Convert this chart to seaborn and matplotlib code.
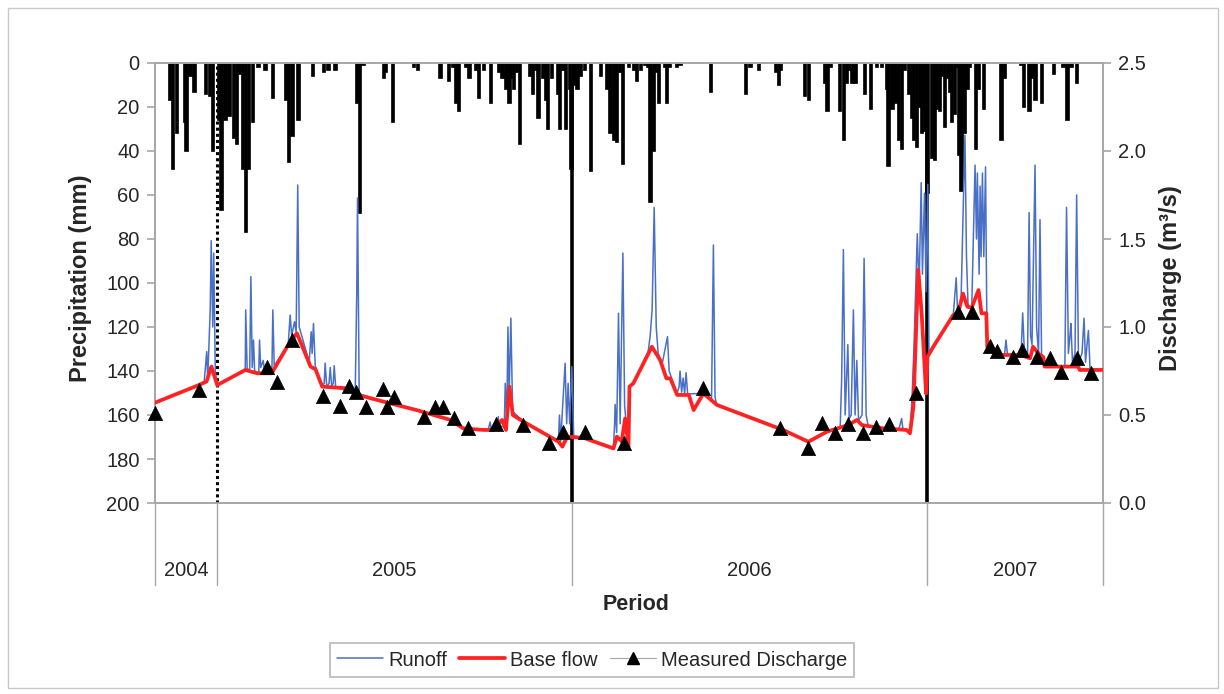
import numpy as np
import pandas as pd
import seaborn as sns
import matplotlib.pyplot as plt
from matplotlib.lines import Line2D
from matplotlib.patches import Rectangle
import matplotlib.transforms as mtransforms

# x axis = days since 2005-01-01
years = ["2004", "2005", "2006", "2007"]
year_edges = [-64, 0, 365, 730, 911]

# daily precipitation (mm), rainy days only
rain_day = [-49, -46, -42, -34, -32, -28, -24, -12, -8, -5, 1, 4, 8, 12, 17, 20, 23, 26, 29, 32,
            36, 42, 49, 57, 70, 73, 77, 83, 98, 109, 114, 121, 143, 146, 150, 171, 173, 180,
            202, 206, 229, 238, 242, 245, 248, 256, 259, 266, 269, 274, 281, 289, 293, 297,
            300, 303, 305, 308, 311, 321, 324, 327, 330, 335, 338, 340, 344, 350, 352, 355,
            358, 362, 364, 367, 370, 373, 378, 384, 394, 401, 404, 408, 411, 414, 417, 423,
            428, 431, 435, 440, 443, 445, 449, 451, 454, 460, 462, 465, 472, 476, 507, 543,
            548, 557, 574, 577, 579, 604, 608, 625, 627, 631, 640, 644, 647, 650, 653, 656,
            666, 672, 678, 683, 688, 690, 694, 697, 701, 704, 707, 711, 714, 716, 719, 722,
            724, 727, 730, 735, 738, 740, 743, 745, 748, 751, 753, 755, 758, 760, 763, 765,
            768, 771, 774, 780, 783, 788, 806, 810, 826, 829, 835, 838, 841, 848, 860, 870,
            874, 878, 884]
rain_mm = [17, 48, 32, 27, 40, 6, 13, 14, 15, 40, 26, 67, 26, 24, 34, 37, 5, 48, 77, 48,
           27, 2, 3, 16, 17, 45, 33, 26, 6, 4, 3, 3, 18, 68, 1, 7, 4, 27,
           2, 3, 7, 8, 2, 18, 22, 2, 7, 3, 16, 3, 18, 4, 7, 12,
           18, 7, 12, 4, 37, 6, 14, 3, 25, 7, 17, 30, 7, 14, 30, 3,
           30, 12, 48, 10, 12, 6, 3, 49, 6, 12, 32, 35, 36, 4, 46, 2,
           3, 8, 3, 1, 2, 63, 40, 4, 18, 2, 18, 2, 2, 1, 13, 14,
           2, 3, 4, 10, 3, 15, 17, 9, 22, 2, 22, 35, 9, 3, 9, 9,
           14, 21, 2, 2, 12, 47, 21, 18, 35, 39, 3, 14, 25, 35, 38, 20,
           32, 31, 59, 43, 44, 21, 22, 6, 29, 7, 13, 27, 23, 2, 42, 58,
           32, 12, 2, 39, 12, 21, 35, 7, 1, 20, 22, 7, 17, 18, 5, 2,
           26, 2, 9]

# base flow (m3/s)
base_day = [-64, -19, -11, -6, 0, 29, 41, 56, 75, 82, 96, 101, 108, 133, 145, 171, 205, 240,
            253, 274, 284, 293, 297, 300.5, 304, 315, 342, 351, 355, 360, 377, 407.5, 411,
            416, 419.5, 423, 424, 428, 447, 455.5, 462, 466, 473, 485, 490, 500, 514, 582,
            608, 627, 649, 658, 663, 685, 709, 712.5, 716, 721, 724.5, 729, 730.5, 736.5, 757,
            762, 767, 771.5, 776, 783, 786, 791, 792, 798, 805, 826, 836, 839, 846, 849.5,
            851, 885.5, 887, 911]
base_q = [0.57, 0.67, 0.69, 0.775, 0.67, 0.756, 0.737, 0.737, 0.917, 0.964, 0.775, 0.76, 0.661,
          0.652, 0.614, 0.576, 0.528, 0.472, 0.424, 0.415, 0.415, 0.472, 0.415, 0.661, 0.50,
          0.462, 0.377, 0.348, 0.32, 0.377, 0.37, 0.31, 0.377, 0.35, 0.48, 0.32, 0.661, 0.68,
          0.888, 0.8125, 0.708, 0.708, 0.614, 0.614, 0.528, 0.623, 0.557, 0.415, 0.348, 0.405,
          0.443, 0.472, 0.443, 0.424, 0.415, 0.396, 0.547, 1.324, 1.078, 0.623, 0.831, 0.888,
          1.068, 1.078, 1.19, 1.115, 1.11, 1.21, 1.078, 1.078, 0.888, 0.869, 0.841, 0.841,
          0.822, 0.888, 0.841, 0.83, 0.775, 0.775, 0.756, 0.756]

# runoff (m3/s)
runoff_day = [-64, -19, -13.4, -10.8, -9.8, -7.2, -6.2, -4.6, -3.6, -2, 0, 28.8, 29.3, 30.8,
              33.4, 34.6, 36, 37.3, 38.5, 42.7, 43.5, 44.7, 47.3, 48.8, 56.2, 57.2, 58.6, 73,
              75, 76.6, 79.5, 81.2, 82.8, 84.3, 94.6, 96.6, 97.6, 99, 100.8, 107.7, 110, 111,
              112.6, 115, 116.2, 117.7, 119.3, 120.3, 121.8, 141.9, 143.5, 144.3, 146, 171,
              205, 240, 253, 278.6, 280.7, 281.7, 287.9, 289, 290.5, 295.2, 296.2, 297.8, 299,
              300.2, 302, 303.8, 315, 342.4, 350.9, 352, 353.2, 357.8, 359.4, 360.9, 362.5,
              364.7, 366.6, 376.6, 407.5, 408.7, 409.2, 410.8, 412.7, 414.4, 417.2, 419, 421.6,
              424, 428, 443.2, 445.3, 447.3, 449.4, 451.5, 453.5, 457.6, 459.7, 461.2, 463.1,
              464.8, 472.7, 475, 476, 477.6, 479.2, 480.7, 482.2, 483.8, 500, 508.4, 510.3, 512,
              513.8, 582.3, 608, 627, 640.7, 642.2, 644, 645.8, 648.6, 650, 652, 654.3, 656,
              657.8, 659.6, 663.2, 665.3, 667.4, 669.4, 685, 701.1, 703.9, 705.2, 709, 712.5,
              714.6, 716.7, 720, 721.8, 724, 725.3, 727.4, 729, 730.8, 732, 736.5, 757, 760,
              761.5, 765, 767.3, 769, 770.6, 772.2, 776, 779.4, 780.9, 781.8, 783.6, 784.6,
              785.6, 787, 788.4, 790.2, 791.8, 798.2, 805, 809.7, 811.2, 812.8, 826.7, 828.4,
              830.3, 833.4, 835, 836.5, 838, 841.1, 842.7, 844.7, 846.2, 847.8, 851.3, 871.8,
              873.5, 875.4, 877, 878, 879.6, 882.2, 883.9, 885.8, 889.4, 891.5, 893, 894.6,
              896, 897.7, 911]
runoff_q = [0.57, 0.67, 0.69, 0.86, 0.70, 1.1, 1.49, 1.0, 1.42, 0.75, 0.67, 0.756, 1.097, 0.76,
            0.76, 1.286, 0.77, 0.926, 0.75, 0.74, 0.926, 0.77, 0.81, 0.74, 0.737, 1.097, 0.78,
            0.9, 1.068, 0.95, 1.03, 0.97, 1.807, 1.0, 0.8, 0.973, 0.85, 1.02, 0.78, 0.661, 0.68,
            0.795, 0.66, 0.68, 0.77, 0.66, 0.68, 0.78, 0.66, 0.62, 1.2, 1.733, 0.62, 0.576,
            0.528, 0.472, 0.424, 0.415, 0.46, 0.42, 0.43, 0.49, 0.44, 0.43, 0.68, 0.48, 1.0,
            0.6, 1.05, 0.52, 0.462, 0.377, 0.348, 0.5, 0.35, 0.794, 0.45, 0.68, 0.45,
            0.775, 0.38, 0.37, 0.31, 0.45, 0.56, 0.40, 1.078, 0.45, 1.42, 0.55, 0.40,
            0.661, 0.68, 0.86, 0.95, 1.1, 1.68, 1.0, 0.85, 0.79, 0.85, 0.89, 0.945,
            0.75, 0.62, 0.66, 0.75, 0.63, 0.71, 0.62, 0.74, 0.62, 0.623, 0.59, 1.466, 0.6,
            0.557, 0.415, 0.348, 0.405, 0.43, 0.7, 1.44, 0.5, 0.9, 0.48, 0.5, 1.097, 0.5,
            0.81, 0.47, 0.50, 1.39, 0.50, 0.44, 0.424, 0.42, 0.48, 0.42, 0.415, 0.396,
            0.6, 0.9, 1.53, 1.2, 1.82, 1.3, 1.76, 1.2, 1.81, 0.85, 0.888, 1.068, 1.28,
            1.08, 1.15, 1.68, 2.09, 1.4, 1.12, 1.11, 1.92, 1.5, 1.875, 1.3, 1.8,
            1.4, 1.875, 1.4, 1.91, 0.85, 0.869, 0.841, 0.84, 0.926, 0.84, 0.84, 1.08,
            0.84, 0.83, 1.65, 0.95, 0.9, 1.92, 1.0, 0.85, 1.61, 0.85, 0.775, 0.78,
            1.68, 0.85, 0.95, 1.02, 0.8, 0.85, 1.75, 0.8, 0.85, 1.05, 0.8, 0.9,
            0.98, 0.76, 0.756]

# measured discharge (m3/s)
meas_day = [-64, -19, 51, 61, 77, 109, 126, 136, 143, 153, 171, 175, 182, 213, 224, 232, 244,
            258, 287, 314, 341, 356, 378, 418.5, 500, 579, 608, 622, 635, 649, 664, 678, 691,
            719, 762, 776, 795, 802, 818, 828, 843, 857, 867.5, 884.5, 899]
meas_q = [0.51, 0.642, 0.775, 0.689, 0.926, 0.608, 0.551, 0.665, 0.632, 0.543, 0.646, 0.547,
          0.60, 0.49, 0.543, 0.543, 0.485, 0.424, 0.449, 0.443, 0.339, 0.405, 0.405, 0.343,
          0.652, 0.424, 0.31, 0.456, 0.40, 0.449, 0.40, 0.43, 0.449, 0.623, 1.087, 1.087,
          0.892, 0.866, 0.828, 0.869, 0.828, 0.822, 0.746, 0.822, 0.74]

sns.set_style("white")
plt.rcParams['font.family'] = ['Liberation Sans', 'DejaVu Sans']

fig = plt.figure(figsize=(12.24, 6.94), dpi=100)
ax = fig.add_axes([155/1224, 1-503/694, 948/1224, 440/694])
ax2 = ax.twinx()

grey = "#a6a6a6"
fs = 14.5

# year boundary lines
ax.axvline(0, color="black", lw=2.2, ls=(0, (1, 1)), zorder=1)
ax.axvline(365, color="black", lw=2.6, zorder=1)
ax.axvline(730, color="black", lw=2.6, zorder=1)

ax.bar(rain_day, rain_mm, width=3.4, color="black", edgecolor="black", linewidth=0.5, zorder=2)
ax.set_ylim(200, 0)
ax.set_xlim(year_edges[0], year_edges[-1])
ax.set_yticks(range(0, 201, 20))
ax.set_xticks([])

df_run = pd.DataFrame({"day": runoff_day, "q": runoff_q})
df_base = pd.DataFrame({"day": base_day, "q": base_q})
df_meas = pd.DataFrame({"day": meas_day, "q": meas_q})

sns.lineplot(data=df_run, x="day", y="q", ax=ax2, color="#4a6fc6", lw=1.1, sort=False, zorder=3)
sns.lineplot(data=df_base, x="day", y="q", ax=ax2, color="#ff2222", lw=2.7, sort=False, zorder=4)
sns.scatterplot(data=df_meas, x="day", y="q", ax=ax2, marker="^", color="black", s=105,
                edgecolor="black", linewidth=0.5, zorder=5, clip_on=False)
ax2.set_ylim(0, 2.5)
ax2.set_xlim(year_edges[0], year_edges[-1])
ax2.set_yticks(np.arange(0, 2.51, 0.5))
ax2.set_yticklabels([f"{v:.1f}" for v in np.arange(0, 2.51, 0.5)])
ax2.set_xlabel("")
ax2.set_ylabel("")

for a in (ax, ax2):
    for s in a.spines.values():
        s.set_color(grey)
        s.set_linewidth(1.2)
ax.tick_params(axis="y", direction="out", length=6, width=1.2, color=grey, labelsize=fs, pad=5)
ax2.tick_params(axis="y", direction="out", length=6, width=1.2, color=grey, labelsize=fs, pad=5)

fig.text(80/1224, 1-278/694, "Precipitation (mm)", rotation=90, ha="center", va="center",
         fontsize=17, fontweight="bold")
fig.text(1170/1224, 1-278/694, "Discharge (m\u00b3/s)", rotation=90, ha="center", va="center",
         fontsize=17, fontweight="bold")

# year category strip under the plot
trans = mtransforms.blended_transform_factory(ax.transData, ax.transAxes)
for e in year_edges:
    ax.plot([e, e], [0, -82/440], transform=trans, color=grey, lw=1.0, clip_on=False)
for i, y in enumerate(years):
    mid = (year_edges[i] + year_edges[i+1]) / 2
    ax.text(mid, -67/440, y, transform=trans, ha="center", va="center", fontsize=fs)

fig.text(636/1224, 1-604/694, "Period", ha="center", va="center", fontsize=15.5, fontweight="bold")

handles = [Line2D([], [], color="#4a6fc6", lw=1.1),
           Line2D([], [], color="#ff2222", lw=2.7),
           Line2D([], [], color=grey, lw=0.8, marker="^", markersize=8.5,
                  markerfacecolor="black", markeredgecolor="black")]
leg = fig.legend(handles, ["Runoff", "Base flow", "Measured Discharge"], loc="center",
                 bbox_to_anchor=(592/1224, 1-660/694), ncol=3, frameon=True, fancybox=False,
                 fontsize=fs, handlelength=2.3, handletextpad=0.25, columnspacing=0.6,
                 borderpad=0.35, edgecolor=grey)
leg.get_frame().set_linewidth(1.2)

fig.patches.append(Rectangle((8/1224, 6/694), 1210/1224, 680/694, transform=fig.transFigure,
                             fill=False, edgecolor="#c8c8c8", lw=1.0))

plt.savefig("out.png", dpi=100)
